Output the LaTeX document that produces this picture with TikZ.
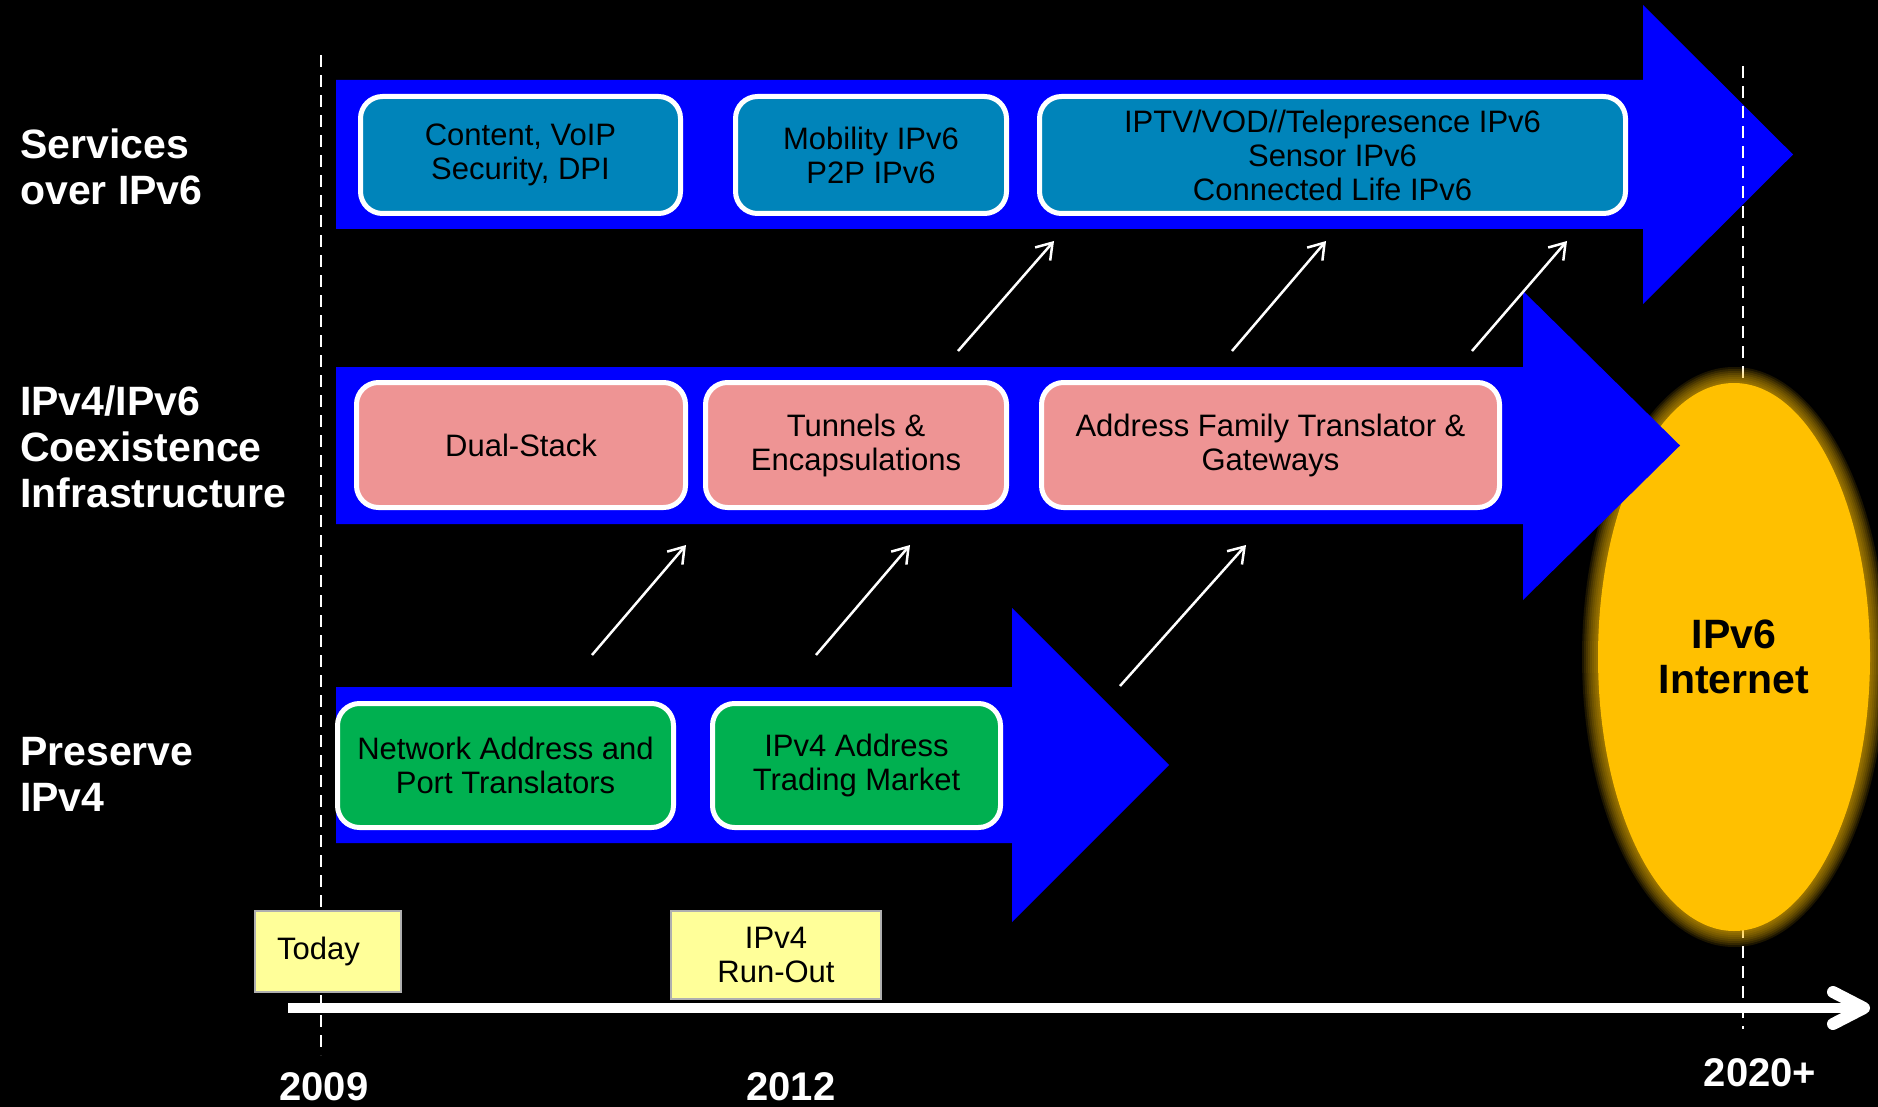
\documentclass[tikz,border=0pt]{standalone}
\usepackage{fontspec}
\setmainfont{Liberation Sans}
\usetikzlibrary{arrows.meta,shapes.geometric}
\definecolor{laneblue}{RGB}{0,0,255}
\definecolor{svcteal}{RGB}{0,132,186}
\definecolor{coexpink}{RGB}{238,148,148}
\definecolor{keepgreen}{RGB}{0,176,80}
\definecolor{noteyellow}{RGB}{255,255,153}
\definecolor{boxgray}{RGB}{175,175,175}
\definecolor{netgold}{RGB}{255,192,0}
\begin{document}
\begin{tikzpicture}[x=1pt,y=-1pt,
  lane/.style={fill=laneblue},
  box/.style={draw=white, line width=5pt, rounded corners=22pt, inner sep=0pt, align=center, text=black, font=\fontsize{31}{34}\selectfont},
  svcbox/.style={box, fill=svcteal, minimum height=117pt},
  coexbox/.style={box, fill=coexpink, minimum height=125pt},
  keepbox/.style={box, fill=keepgreen, minimum height=124pt},
  datebox/.style={draw=boxgray, line width=2pt, fill=noteyellow, inner sep=0pt, align=center, text=black, font=\fontsize{31}{34}\selectfont},
  lanelabel/.style={anchor=west, inner sep=0pt, align=left, text=white, font=\bfseries\fontsize{41}{46}\selectfont},
  yearlabel/.style={inner sep=0pt, text=white, font=\bfseries\fontsize{40}{46}\selectfont},
  guide/.style={draw=white, line width=2.5pt, dash pattern=on 12pt off 8pt},
  flow/.style={draw=white, line width=2.5pt, -{Straight Barb[length=15pt,width=20pt]}},
  axisline/.style={draw=white, line width=10pt},
  chevron/.style={draw=white, line width=12pt, line cap=round, line join=round},
]
\useasboundingbox[fill=black] (0,0) rectangle (1878,1107);

% top lane arrow
\fill[lane] (336,80) -- (1643,80) -- (1643,5) -- (1793,154.5) -- (1643,304) -- (1643,229) -- (336,229) -- cycle;

% dashed guides
\coordinate (g1a) at (321,55);
\coordinate (g1b) at (321,1055);
\coordinate (g2a) at (1743,66);
\coordinate (g2b) at (1743,1029);
\draw[guide] (g1a) -- (g1b);
\draw[guide] (g2a) -- (g2b);

% glow + ellipse
\foreach \g in {16,14,12,10,8,6,4,2} {
  \pgfmathsetmacro\rx{136+\g}
  \pgfmathsetmacro\ry{274+\g}
  \fill[netgold, opacity=0.11] (1734,657) ellipse [x radius=\rx pt, y radius=\ry pt];
}
\node[ellipse, fill=netgold, minimum width=272pt, minimum height=548pt, inner sep=0pt, align=center, text=black, font=\bfseries\fontsize{41}{45}\selectfont] (net) at (1734,657) {IPv6\\Internet};

% middle and bottom lane arrows
\fill[lane] (336,367) -- (1523,367) -- (1523,291) -- (1680,445.5) -- (1523,600) -- (1523,524) -- (336,524) -- cycle;
\fill[lane] (336,687) -- (1012,687) -- (1012,608) -- (1169,765) -- (1012,922) -- (1012,843) -- (336,843) -- cycle;

% service boxes
\node[svcbox, minimum width=320pt] (content) at (520.5,155) {Content, VoIP\\Security, DPI};
\node[svcbox, minimum width=271pt] (mobility) at (871,155) {Mobility IPv6\\P2P IPv6};
\node[svcbox, minimum width=586pt] (iptv) at (1332.5,155) {IPTV/VOD//Telepresence IPv6\\Sensor IPv6\\Connected Life IPv6};

% coexistence boxes
\node[coexbox, minimum width=329pt] (dual) at (521,445) {Dual-Stack};
\node[coexbox, minimum width=301pt] (tunnels) at (856,445) {Tunnels \&\\Encapsulations};
\node[coexbox, minimum width=458pt] (aft) at (1270.5,445) {Address Family Translator \&\\Gateways};

% preserve boxes
\node[keepbox, minimum width=336pt] (napt) at (505.5,765.5) {Network Address and\\Port Translators};
\node[keepbox, minimum width=288pt] (trading) at (856.5,765.5) {IPv4 Address\\Trading Market};

% diagonal flow arrows
\coordinate (u1a) at (958,351);  \coordinate (u1b) at (1054,241);
\coordinate (u2a) at (1232,351); \coordinate (u2b) at (1326,241);
\coordinate (u3a) at (1472,351); \coordinate (u3b) at (1567,241);
\coordinate (l1a) at (592,655);  \coordinate (l1b) at (686,545);
\coordinate (l2a) at (816,655);  \coordinate (l2b) at (910,545);
\coordinate (l3a) at (1120,686); \coordinate (l3b) at (1246,545);
\draw[flow] (u1a) -- (u1b);
\draw[flow] (u2a) -- (u2b);
\draw[flow] (u3a) -- (u3b);
\draw[flow] (l1a) -- (l1b);
\draw[flow] (l2a) -- (l2b);
\draw[flow] (l3a) -- (l3b);

% lane labels
\node[lanelabel] (lsvc) at (20,167) {Services\\over IPv6};
\node[lanelabel] (lcoex) at (20,447) {IPv4/IPv6\\Coexistence\\Infrastructure};
\node[lanelabel] (lkeep) at (20,774) {Preserve\\IPv4};

% time axis
\coordinate (ax0) at (288,1008);
\coordinate (ax1) at (1864,1008);
\coordinate (cvt) at (1833,992);
\coordinate (cvb) at (1833,1024);
\draw[axisline] (ax0) -- (ax1);
\draw[chevron] (cvt) -- (ax1) -- (cvb);

% date notes
\node[datebox, minimum width=146pt, minimum height=81pt] (today) at (328,951.5) {Today\hspace{19pt}};
\node[datebox, minimum width=210pt, minimum height=88pt] (runout) at (776,955) {IPv4\\Run-Out};

% years
\node[yearlabel] (y2009) at (324,1087) {2009};
\node[yearlabel] (y2012) at (791,1087) {2012};
\node[yearlabel] (y2020) at (1760,1073) {2020+};
\end{tikzpicture}
\end{document}
